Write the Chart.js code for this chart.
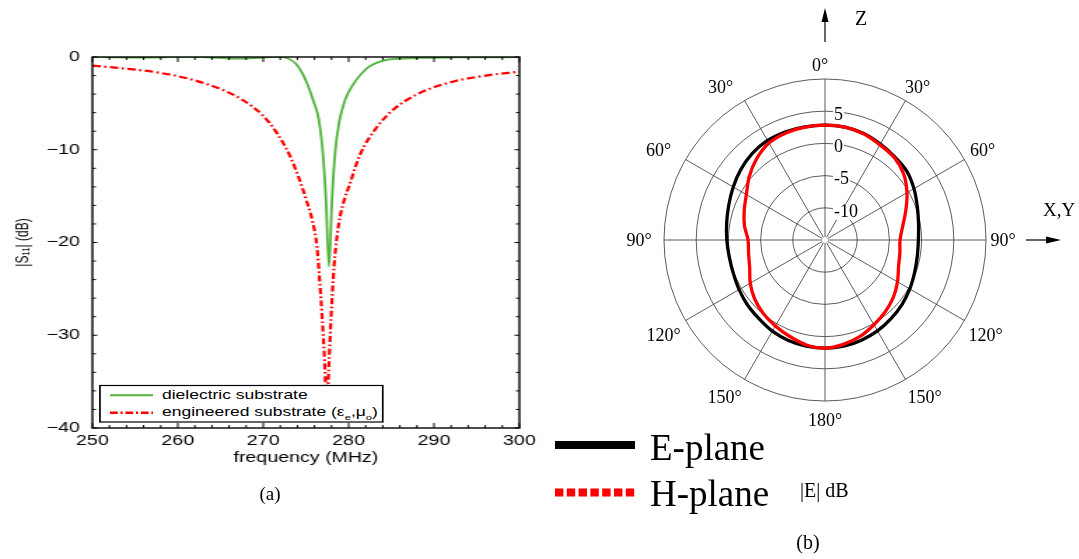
<!DOCTYPE html>
<html>
<head>
<meta charset="utf-8">
<script src="https://cdn.jsdelivr.net/npm/chart.js@4.4.1/dist/chart.umd.min.js"></script>
<style>
  html, body { margin: 0; padding: 0; background: #fff; }
  body { width: 1079px; height: 559px; position: relative; overflow: hidden; }
  /* panel (a) of the original figure is stretched horizontally */
  #panelA { position: absolute; left: 0; top: 0; width: 390px; height: 480px; transform: scaleX(1.4); transform-origin: 0 0; }
  #panelA canvas, #panelA svg { position: absolute; left: 0; top: 0; }
  #polar { position: absolute; left: 540px; top: 0; }
  #overlay { position: absolute; left: 0; top: 0; pointer-events: none; }
  svg text { font-family: "Liberation Serif", "DejaVu Serif", serif; fill: #000; }
</style>
</head>
<body>

<div id="panelA">
  <canvas id="s11" width="390" height="480"></canvas>
  <svg id="legendA" width="390" height="480">
    <rect x="71.4" y="385.5" width="202" height="36.5" fill="#fff" stroke="#000" stroke-width="1.2"/>
    <line x1="78.6" y1="395.3" x2="109.3" y2="395.3" stroke="#52b43c" stroke-width="2"/>
    <line x1="78.6" y1="412.7" x2="109.3" y2="412.7" stroke="#ff0000" stroke-width="2.5" stroke-dasharray="5.5 2 1.5 2"/>
    <text x="115.7" y="399.5" style="font-family:'Liberation Sans',Arial,sans-serif;font-size:12.5px">dielectric substrate</text>
    <text x="115.7" y="416.5" style="font-family:'Liberation Sans',Arial,sans-serif;font-size:12.5px">engineered substrate (ε<tspan dy="3" style="font-size:8px">e</tspan><tspan dy="-3">,μ</tspan><tspan dy="3" style="font-size:8px">o</tspan><tspan dy="-3">)</tspan></text>
  </svg>
</div>

<canvas id="polar" width="539" height="559"></canvas>

<svg id="overlay" width="1079" height="559">
  <!-- axis arrows of panel (b) -->
  <line x1="825" y1="42" x2="825" y2="19" stroke="#000" stroke-width="1.2"/>
  <polygon points="825,8 821.5,22 828.5,22" fill="#000"/>
  <text x="855" y="25" style="font-size:20px">Z</text>
  <line x1="1026" y1="240" x2="1048" y2="240" stroke="#000" stroke-width="1.2"/>
  <polygon points="1061,240 1046,236.5 1046,243.5" fill="#000"/>
  <text x="1043" y="216" style="font-size:19px">X,Y</text>
  <!-- legend of panel (b) -->
  <rect x="555" y="441" width="80" height="8" fill="#000"/>
  <line x1="555" y1="492.5" x2="635" y2="492.5" stroke="#ff0000" stroke-width="8" stroke-dasharray="8.4 3.4"/>
  <text x="650" y="460" style="font-size:37px">E-plane</text>
  <text x="650" y="506" style="font-size:37px">H-plane</text>
  <text x="800" y="497" style="font-size:20px">|E| dB</text>
  <!-- captions -->
  <text x="270" y="500" text-anchor="middle" style="font-size:19px">(a)</text>
  <text x="808" y="549" text-anchor="middle" style="font-size:20px">(b)</text>
</svg>

<script>
// ---- panel (a): |S11| vs frequency ----
const dielectricFreq = [250, 252, 255, 258.5, 259.5, 262.5, 263.5, 265, 267, 269, 270.5, 271.5, 272.3,
  273.8, 274.6, 275.2, 275.9, 276.5, 277.0, 277.35, 277.7, 278.05, 278.4, 278.9, 279.6, 280.5,
  281.4, 282.4, 284.4, 286, 288.3, 292, 300];
const dielectricDb = [0.1, -0.05, -0.06, -0.04, 0.05, 0.05, -0.04, -0.1, -0.18, -0.12, -0.03, 0.05, 0,
  -0.7, -1.8, -3.0, -4.8, -6.7, -10.5, -15.5, -22.6, -15.5, -10.5, -7.0, -4.6, -3.0,
  -1.9, -1.04, -0.32, -0.18, -0.1, -0.05, -0.02];

const engineeredFreq = [250, 253.5, 257.5, 261.4, 265.3, 267.6, 269.9, 271.5, 273.1, 274.2, 275.0,
  275.8, 276.3, 276.6, 276.9, 277.2, 277.45, 277.7, 277.95, 278.3, 278.65, 279.0, 279.5, 280.1,
  281.3, 283.2, 285.2, 288.3, 292.2, 296.1, 300];
const engineeredDb = [-0.93, -1.22, -1.65, -2.37, -3.56, -4.64, -6.25, -8.05, -10.6, -13.1, -15.3,
  -17.8, -20.5, -24, -28, -33, -38, -33, -28, -22.5, -19.3, -17.2, -15.4, -13.8,
  -10.6, -7.7, -5.7, -3.9, -2.66, -2.0, -1.58];

// ---- panel (b): radiation pattern, 10 degree steps clockwise from +Z ----
const polarAngles = [0, 10, 20, 30, 40, 50, 60, 70, 80, 90, 100, 110, 120, 130, 140, 150, 160, 170,
  180, 190, 200, 210, 220, 230, 240, 250, 260, 270, 280, 290, 300, 310, 320, 330, 340, 350];
const ePlaneDb = [2.83, 2.8, 2.6, 2.2, 1.85, 1.6, 0.95, 0.25, -0.25, -0.5, -0.45, -0.2, 0.2, 0.6, 0.95,
  1.3, 1.55, 1.75, 1.8,
  1.75, 1.6, 1.35, 0.95, 0.7, 0.4, 0.15, 0.1, 0.25, 0.5, 0.9, 1.45, 2.05, 2.55, 2.85, 2.9, 2.85];
const hPlaneDb = [2.83, 2.8, 2.55, 2.05, 1.72, 0.95, -0.3, -1.65, -2.75, -3.35, -3.2, -2.85, -2.0,
  -1.15, -0.45, 0.2, 0.94, 1.45, 1.8,
  1.55, 0.95, 0.4, -0.1, -0.75, -1.6, -2.55, -2.95, -3.05, -2.3, -1.65, -0.9, 0.35, 1.5, 2.4, 2.7, 2.8];

const angleTickLabels = ['0°', '30°', '60°', '90°', '120°', '150°', '180°', '150°', '120°', '90°', '60°', '30°'];
const ringTickLabels = [5, 0, -5, -10];

// small offsets so the angle labels sit where the original put them
const angleLabelNudge = [[-5, 9], [1, 7], [-1, 3], [-5, 1], [2, 5], [8, 0], [0, -2],
  [-9, 0], [-3, 5], [-3, 1], [-8, 3], [-13, 7]];

const sansFont = "'Liberation Sans', Arial, sans-serif";
const serifFont = "'Liberation Serif', 'DejaVu Serif', serif";

// frame on all four sides with inward ticks, like the original plot
const frameTicks = {
  id: 'frameTicks',
  afterDatasetsDraw(chart) {
    const { ctx, chartArea: a, scales: { x, y } } = chart;
    ctx.save();
    ctx.strokeStyle = '#000';
    ctx.lineWidth = 1;
    ctx.beginPath();
    for (let f = 250; f <= 300; f += 2) {
      const px = x.getPixelForValue(f);
      const len = f % 10 === 0 ? 5 : 3;
      ctx.moveTo(px, a.bottom); ctx.lineTo(px, a.bottom - len);
      ctx.moveTo(px, a.top); ctx.lineTo(px, a.top + len);
    }
    for (let d = -40; d <= 0; d += 2) {
      const py = y.getPixelForValue(d);
      const len = d % 10 === 0 ? 3.5 : 2.5;
      ctx.moveTo(a.left, py); ctx.lineTo(a.left + len, py);
      ctx.moveTo(a.right, py); ctx.lineTo(a.right - len, py);
    }
    ctx.stroke();
    ctx.lineWidth = 1.4;
    ctx.strokeRect(a.left, a.top, a.right - a.left, a.bottom - a.top);
    ctx.restore();
  }
};

new Chart(document.getElementById('s11'), {
  type: 'line',
  data: {
    datasets: [
      {
        label: 'dielectric substrate',
        data: dielectricFreq.map((f, i) => ({ x: f, y: dielectricDb[i] })),
        borderColor: '#52b43c', borderWidth: 1.8, pointRadius: 0, cubicInterpolationMode: 'monotone'
      },
      {
        label: 'engineered substrate',
        data: engineeredFreq.map((f, i) => ({ x: f, y: engineeredDb[i] })),
        borderColor: '#ff0000', borderWidth: 2.2, borderDash: [6, 2.5, 1.6, 2.5],
        pointRadius: 0, cubicInterpolationMode: 'monotone'
      }
    ]
  },
  options: {
    responsive: false,
    animation: false,
    layout: { padding: { top: 57, right: 19, left: 0, bottom: 0 } },
    plugins: { legend: { display: false }, tooltip: { enabled: false } },
    scales: {
      x: {
        type: 'linear', min: 250, max: 300,
        grid: { display: false, drawTicks: false }, border: { display: false },
        ticks: { stepSize: 10, padding: 5, color: '#000', font: { family: sansFont, size: 14 } },
        title: { display: true, text: 'frequency (MHz)', color: '#000',
                 font: { family: sansFont, size: 14 }, padding: { top: 0, bottom: 13 } },
        afterFit: s => { s.height = 52; }
      },
      y: {
        min: -40, max: 0,
        grid: { display: false, drawTicks: false }, border: { display: false },
        ticks: { stepSize: 10, padding: 9, color: '#000', font: { family: sansFont, size: 14 },
                 callback: v => v < 0 ? '\u2212' + Math.abs(v) : '' + v },
        title: { display: true, text: '|S\u2081\u2081| (dB)', color: '#000',
                 font: { family: sansFont, size: 12 }, padding: { top: 9, bottom: 0 } },
        afterFit: s => { s.width = 66; }
      }
    }
  },
  plugins: [frameTicks]
});

// angle labels, ring labels and the hole in the middle of the polar grid
const polarLabels = {
  id: 'polarLabels',
  beforeDatasetsDraw(chart) {
    const { ctx } = chart;
    const r = chart.scales.r;
    ctx.save();
    ctx.fillStyle = '#fff';
    ctx.beginPath();
    ctx.arc(r.xCenter, r.yCenter, 3, 0, Math.PI * 2);
    ctx.fill();

    ctx.font = '18px ' + serifFont;
    ctx.textBaseline = 'middle';
    ctx.textAlign = 'left';
    ringTickLabels.forEach(v => {
      const txt = String(v);
      const py = r.yCenter - r.getDistanceFromCenterForValue(v) + 4;
      const px = r.xCenter + 9;
      const w = ctx.measureText(txt).width;
      ctx.fillStyle = '#fff';
      ctx.fillRect(px - 1, py - 8, w + 2, 16);
      ctx.fillStyle = '#000';
      ctx.fillText(txt, px, py);
    });

    ctx.textAlign = 'center';
    angleTickLabels.forEach((txt, i) => {
      const pos = r.getPointPosition(i * 3, r.drawingArea + 22);
      const [dx, dy] = angleLabelNudge[i];
      ctx.fillText(txt, pos.x + dx, pos.y + dy);
    });
    ctx.restore();
  }
};

new Chart(document.getElementById('polar'), {
  type: 'radar',
  data: {
    labels: polarAngles,
    datasets: [
      { label: 'H-plane', data: hPlaneDb, borderColor: '#ff0000', borderWidth: 3.3,
        fill: false, pointRadius: 0, tension: 0.35, order: 0 },
      { label: 'E-plane', data: ePlaneDb, borderColor: '#000', borderWidth: 3.3,
        fill: false, pointRadius: 0, tension: 0.35, order: 1 }
    ]
  },
  options: {
    responsive: false,
    animation: false,
    layout: { padding: { left: 124, right: 93, top: 79, bottom: 158 } },
    plugins: { legend: { display: false }, tooltip: { enabled: false } },
    scales: {
      r: {
        min: -15, max: 10,
        ticks: { display: false, stepSize: 5 },
        pointLabels: { display: false },
        grid: { circular: true, lineWidth: 0.9,
                color: c => (c.tick && c.tick.value === -15) ? 'rgba(0,0,0,0)' : '#4a4a4a' },
        angleLines: { color: '#4a4a4a', lineWidth: c => c.index % 3 === 0 ? 0.9 : 0 }
      }
    }
  },
  plugins: [polarLabels]
});
</script>
</body>
</html>
